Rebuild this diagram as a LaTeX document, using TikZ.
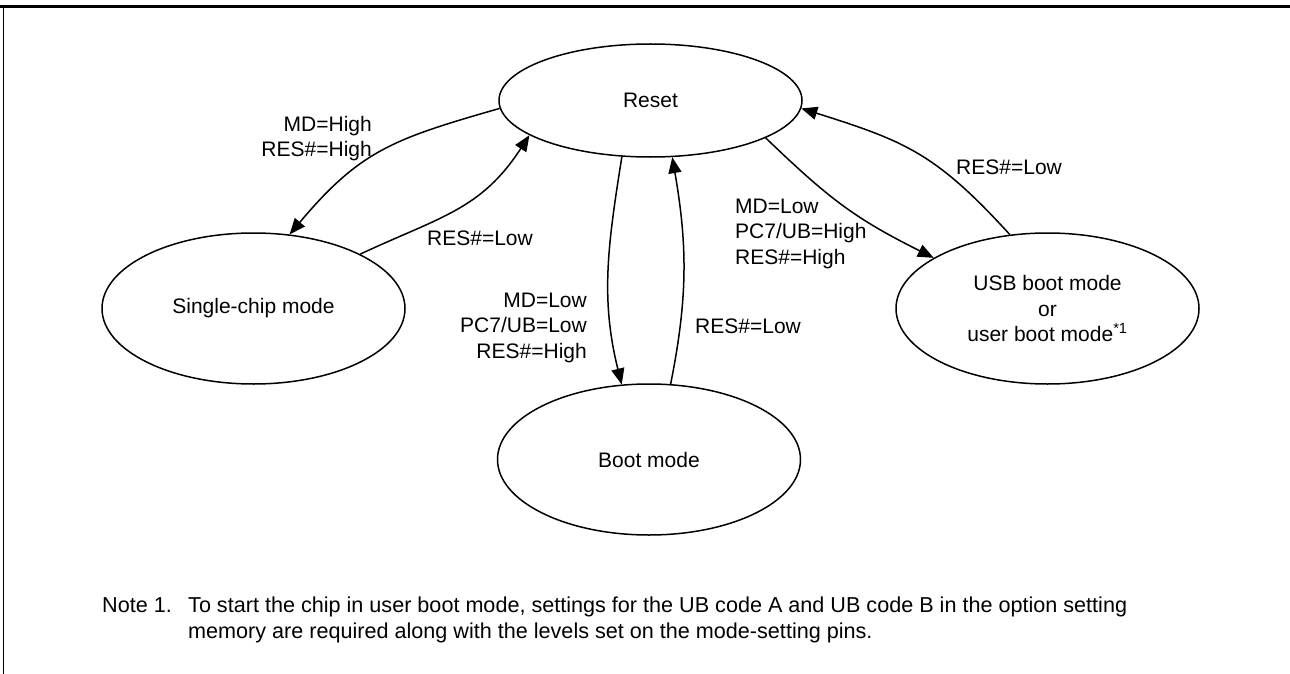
\documentclass[tikz,border=0pt]{standalone}
\usepackage{fontspec}
\setmainfont{Liberation Sans}
\usetikzlibrary{shapes.geometric,arrows.meta}
\begin{document}
\begin{tikzpicture}[x=1pt,y=-1pt,
  every node/.style={font=\fontsize{21pt}{25.3pt}\selectfont, inner sep=0pt},
  state/.style={draw, ellipse, line width=1.5pt, minimum width=303pt, minimum height=151pt},
  conn/.style={line width=1.5pt, -{Triangle[length=16pt,width=13pt]}},
  lbl/.style={anchor=base west, align=left},
  lblr/.style={anchor=base east, align=right},
  notefont/.style={font=\fontsize{21.6pt}{25.3pt}\selectfont}]
\useasboundingbox (0,0) rectangle (1290,674);
% frame
\draw[line width=2.8pt] (0,6.2) -- (1290,6.2);
\draw[line width=1.3pt] (3.5,5) -- (3.5,674);
% states
\node[state, minimum height=113pt] (reset) at (650.5,100.5) {Reset};
\node[state] (single) at (253.5,308.5) {Single-chip mode};
\node[state] (boot) at (649,459.5) {Boot mode};
\node[state, align=center] (usb) at (1047.5,308.5) {USB boot mode\\or\\user boot mode\textsuperscript{*1}};
% connectors
\draw[conn] (reset.183.6) to[out=196,in=50,looseness=1.15] (single.64.2);
\draw[conn] (single.27) to[out=25,in=237,looseness=1.1] (reset.196.4);
\draw[conn] (reset.243.6) to[out=261,in=104] (boot.110.1);
\draw[conn] (boot.74.6) to[out=78.7,in=279.8] (reset.291.4);
\draw[conn] (reset.342.2) to[out=-43.8,in=153.4,looseness=1.1] (usb.156.2);
\draw[conn] (usb.117) to[out=132.4,in=-17.5,looseness=1.15] (reset.357.5);
% labels
\node[lblr] (lA) at (372,157) {MD=High\\RES\#=High};
\node[lbl] (lB) at (427,245) {RES\#=Low};
\node[lblr] (lC) at (587,358) {MD=Low\\PC7/UB=Low\\RES\#=High};
\node[lbl] (lD) at (695,333) {RES\#=Low};
\node[lbl] (lE) at (735,264) {MD=Low\\PC7/UB=High\\RES\#=High};
\node[lbl] (lF) at (956,175) {RES\#=Low};
% note
\node[lbl, notefont] (note) at (102,612.7) {Note 1.};
\node[lbl, notefont] (notetext) at (188,638) {To start the chip in user boot mode, settings for the UB code A and UB code B in the option setting\\memory are required along with the levels set on the mode-setting pins.};
\end{tikzpicture}
\end{document}
